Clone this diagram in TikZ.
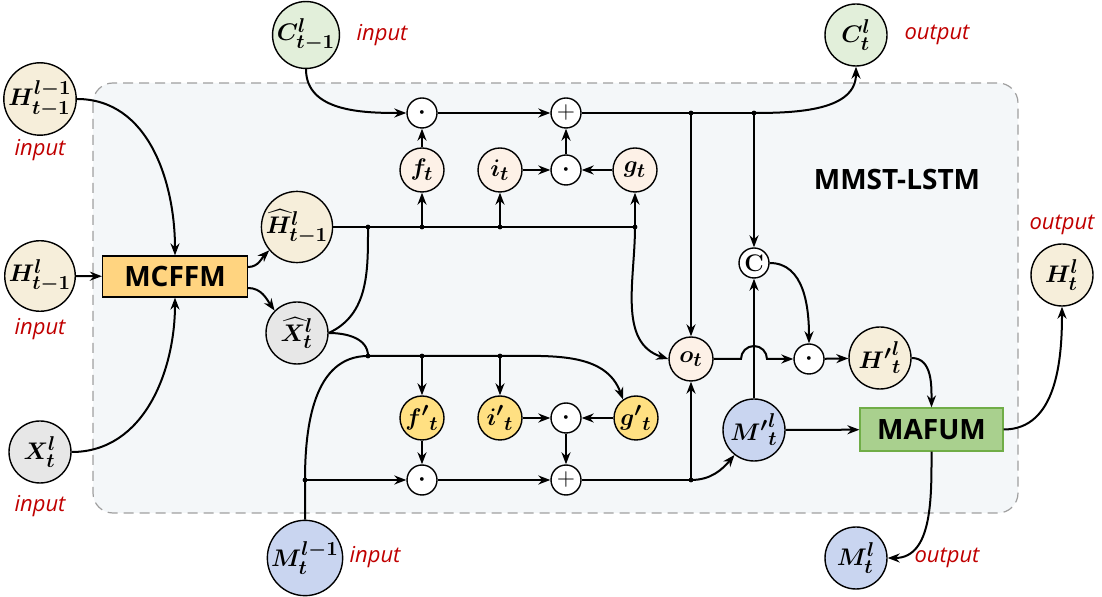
\documentclass[tikz,border=0pt]{standalone}
\usepackage{amsmath}
\usepackage{bm}
\usepackage[no-math]{fontspec}
\newfontfamily\labelfont{Open Sans}
\usetikzlibrary{arrows.meta}
\renewcommand{\defaultscriptratio}{.74}

\definecolor{hcream}{HTML}{F6EEDA}
\definecolor{cgreen}{HTML}{E2EFDA}
\definecolor{xgray}{HTML}{E7E7E7}
\definecolor{mblue}{HTML}{C9D5F0}
\definecolor{gatepeach}{HTML}{FDF1E7}
\definecolor{gyellow}{HTML}{FFE082}
\definecolor{mcorange}{HTML}{FFD480}
\definecolor{mafgreen}{HTML}{A9D08E}
\definecolor{mafborder}{HTML}{70AD47}
\definecolor{bgcell}{HTML}{F4F7F9}
\definecolor{redlab}{HTML}{C00000}

\tikzset{
  big/.style={circle,draw,line width=0.7pt,minimum size=31pt,inner sep=0pt,font=\fontsize{13}{15}\selectfont},
  gate/.style={big,minimum size=22pt,fill=gatepeach},
  op/.style={circle,draw,fill=white,line width=0.7pt,minimum size=15pt,inner sep=0pt,font=\fontsize{12}{14}\selectfont},
  modbox/.style={draw,line width=0.6pt,inner sep=0pt,font=\labelfont\bfseries\fontsize{14}{16}\selectfont},
  redlbl/.style={text=redlab,font=\labelfont\itshape\fontsize{11}{13}\selectfont},
  jdot/.style={fill,circle,inner sep=0pt,minimum size=2.4pt}
}

\begin{document}
\begin{tikzpicture}[x=0.5pt,y=0.5pt,>={Stealth[length=6pt,width=4.5pt]},line width=1pt]
  \useasboundingbox (0,0) rectangle (1102,-597);
  % the cell
  \filldraw[fill=bgcell,draw=gray!75,dash pattern=on 5pt off 3pt,line width=0.6pt,rounded corners=10pt] (93,-83) rectangle (1018,-513);
  \node[font=\labelfont\bfseries\fontsize{14}{16}\selectfont] at (897,-180) {MMST-LSTM};
  % inputs
  \node[big,fill=hcream] (hlm) at (40,-99) {$\bm{H^{l-1}_{t-1}}$};
  \node[big,fill=hcream] (hl) at (40,-276) {$\bm{H^{l}_{t-1}}$};
  \node[big,fill=xgray] (xl) at (40,-452) {$\bm{X^{l}_{t}}$};
  \node[big,fill=cgreen] (cin) at (306,-35) {$\bm{C^{l}_{t-1}}$};
  \node[big,fill=mblue] (min) at (305,-558) {$\bm{M^{l-1}_{t}}$};
  \node[redlbl] at (40,-150) {input};
  \node[redlbl] at (40,-329) {input};
  \node[redlbl] at (40,-506) {input};
  \node[redlbl] at (382,-35) {input};
  \node[redlbl] at (375,-557) {input};
  % outputs
  \node[big,fill=cgreen] (cout) at (856,-35) {$\bm{C^{l}_{t}}$};
  \node[big,fill=hcream] (hout) at (1062,-275) {$\bm{H^{l}_{t}}$};
  \node[big,fill=mblue] (mout) at (856,-558) {$\bm{M^{l}_{t}}$};
  \node[redlbl] at (937,-35) {output};
  \node[redlbl] at (1062,-225) {output};
  \node[redlbl] at (947,-558) {output};
  % modules
  \node[modbox,fill=mcorange,minimum width=72.5pt,minimum height=20.5pt] (mc) at (175,-276.5) {MCFFM};
  \node[modbox,fill=mafgreen,draw=mafborder,minimum width=71.5pt,minimum height=21.5pt] (maf) at (931.5,-429.5) {MAFUM};
  % inner states
  \node[big,fill=hcream] (hh) at (297,-227) {$\bm{\widehat{H}^{l}_{t-1}}$};
  \node[big,fill=xgray] (xh) at (297,-333) {$\bm{\widehat{X}^{l}_{t}}$};
  \node[big,fill=hcream] (hp) at (880,-358) {$\bm{{H'}^{l}_{t}}$};
  \node[big,fill=mblue] (mp) at (754,-430) {$\bm{{M'}^{l}_{t}}$};
  % gates
  \node[gate] (ft) at (422,-170) {$\bm{f_t}$};
  \node[gate] (it) at (500,-170) {$\bm{i_t}$};
  \node[gate] (gt) at (635,-170) {$\bm{g_t}$};
  \node[gate] (ot) at (691,-359) {$\bm{o_t}$};
  \node[gate,fill=gyellow] (fp) at (422,-418) {$\bm{{f'}_t}$};
  \node[gate,fill=gyellow] (ip) at (500,-418) {$\bm{{i'}_t}$};
  \node[gate,fill=gyellow] (gp) at (636,-418) {$\bm{{g'}_t}$};
  % operations
  \node[op] (mulf) at (422,-113) {$\bm{\cdot}$};
  \node[op] (addc) at (566,-113) {$+$};
  \node[op] (mulg) at (566,-170) {$\bm{\cdot}$};
  \node[op] (mulfp) at (422,-480) {$\bm{\cdot}$};
  \node[op] (addm) at (566,-480) {$+$};
  \node[op] (mulgp) at (566,-418) {$\bm{\cdot}$};
  \node[op] (cat) at (754,-263) {$\mathbf{C}$};
  \node[op] (mulo) at (809,-359) {$\bm{\cdot}$};
  % junctions
  \coordinate (j1) at (368,-227);
  \coordinate (j2) at (ft |- hh);
  \coordinate (j3) at (it |- hh);
  \coordinate (j4) at (gt |- hh);
  \coordinate (k1) at (368,-356);
  \coordinate (k2) at (ft |- k1);
  \coordinate (k3) at (it |- k1);
  \coordinate (m1) at (min |- mulfp);
  \coordinate (n1) at (ot |- mulfp);
  \coordinate (p1) at (ot |- mulf);
  \coordinate (p2) at (cat |- mulf);
  \coordinate (hop) at (741,-359);
  % into MCFFM
  \draw[->] (hlm.east) to[out=0,in=90] (mc.north);
  \draw[->] (hl) -- (mc);
  \draw[->] (xl.east) to[out=0,in=-90] (mc.south);
  \draw[->] ([yshift=4.75pt]mc.east) to[out=0,in=225] (hh.220);
  \draw[->] ([yshift=-5.75pt]mc.east) to[out=0,in=125] (xh.135);
  % hidden line and input line
  \draw (hh.east) -- (j4);
  \draw (xh.east) to[out=25,in=-90] (j1);
  \draw (xh.east) to[out=0,in=90] (k1);
  \draw (min.north) -- (m1) to[out=90,in=180] (k1) -- (k3);
  \draw[->] (k3) to[out=0,in=110] (gp.125);
  % cell memory path
  \draw[->] (cin.south) to[out=-90,in=180] (mulf.west);
  \draw[->] (mulf) -- (addc);
  \draw (addc.east) -- (p2);
  \draw[->] (p2) to[out=0,in=-90] (cout.south);
  \draw[->] (p1) -- (ot);
  \draw[->] (p2) -- (cat);
  % upper gates
  \draw[->] (j2) -- (ft);
  \draw[->] (j3) -- (it);
  \draw[->] (j4) -- (gt);
  \draw[->] (ft) -- (mulf);
  \draw[->] (it) -- (mulg);
  \draw[->] (gt) -- (mulg);
  \draw[->] (mulg) -- (addc);
  \draw[->] (j4) to[out=-90,in=162] (ot.west);
  % lower gates
  \draw[->] (k2) -- (fp);
  \draw[->] (k3) -- (ip);
  \draw[->] (fp) -- (mulfp);
  \draw[->] (ip) -- (mulgp);
  \draw[->] (gp) -- (mulgp);
  \draw[->] (mulgp) -- (addm);
  \draw[->] (m1) -- (mulfp);
  \draw[->] (mulfp) -- (addm);
  \draw (addm.east) -- (n1);
  \draw[->] (n1) -- (ot);
  \draw[->] (n1) to[out=0,in=230] (mp.232);
  % output side
  \draw[->] (mp) -- (cat);
  \draw[->] (cat.east) to[out=0,in=90] (mulo.north);
  \draw[->] (ot.east) -- (hop) arc[start angle=180,end angle=0,radius=13] -- (mulo.west);
  \draw[->] (mulo) -- (hp);
  \draw[->] (hp.east) to[out=0,in=90] (maf.north);
  \draw[->] (mp) -- (maf);
  \draw[->] (maf.east) to[out=0,in=-90] (hout.south);
  \draw[->] (maf.south) to[out=-90,in=0] (mout.east);
  \foreach \p in {j1,j2,j3,j4,k1,k2,k3,m1,n1,p1,p2}
    \node[jdot] at (\p) {};
\end{tikzpicture}
\end{document}
